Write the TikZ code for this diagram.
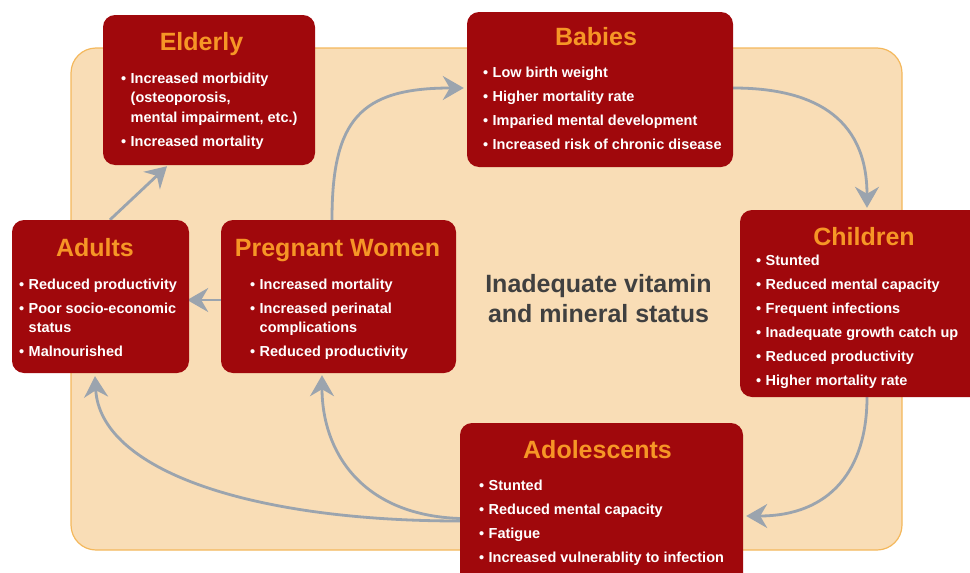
\documentclass[tikz,border=0pt]{standalone}
\usepackage{fontspec}
\setmainfont{Liberation Sans}
\usetikzlibrary{arrows.meta}
\definecolor{panelfill}{RGB}{249,221,182}
\definecolor{paneledge}{RGB}{244,184,92}
\definecolor{boxred}{RGB}{160,8,12}
\definecolor{titleor}{RGB}{246,150,38}
\definecolor{arrowgrey}{RGB}{155,164,174}
\definecolor{centergrey}{RGB}{64,64,64}
\pgfdeclarelayer{bg}\pgfdeclarelayer{arr}\pgfsetlayers{bg,arr,main}
\newcommand{\itm}[1]{\par\hangindent=9.5pt\hangafter=1\noindent\makebox[9.5pt][l]{\textbullet}#1}
\newcommand{\bulletlist}[2]{\parbox[t]{#1}{\fontsize{14.5}{19.5}\selectfont\bfseries\parskip=4.5pt #2}}
\begin{document}
\begin{tikzpicture}[x=1pt,y=-1pt,
  panel/.style={fill=panelfill,draw=paneledge,line width=1.2pt,rounded corners=25pt,inner sep=0pt},
  box/.style={fill=boxred,rounded corners=12pt,inner sep=0pt},
  ttl/.style={text=titleor,font=\fontsize{25}{30}\selectfont\bfseries,anchor=base,inner sep=0pt},
  lst/.style={text=white,anchor=base west,inner sep=0pt},
  ctr/.style={text=centergrey,font=\fontsize{25}{30}\selectfont\bfseries,anchor=base,inner sep=0pt},
  con/.style={draw=arrowgrey,line width=2.8pt,-{Stealth[length=21pt,width=24pt,inset=7pt]}}]
\useasboundingbox (0,0) rectangle (970,573);
\clip (0,0) rectangle (970,573);
\begin{pgfonlayer}{bg}
\node[panel,minimum width=831pt,minimum height=502pt] (panel) at (486.5,299) {};
\end{pgfonlayer}
% boxes
\node[box,minimum width=212pt,minimum height=150pt] (eld) at (209,90) {};
\node[box,minimum width=266pt,minimum height=155pt] (bab) at (600,89.5) {};
\node[box,minimum width=245pt,minimum height=187pt] (chi) at (862.5,303.5) {};
\node[box,minimum width=177pt,minimum height=153pt] (adu) at (100.5,296.5) {};
\node[box,minimum width=235pt,minimum height=153pt] (preg) at (338.5,296.5) {};
\node[box,minimum width=283pt,minimum height=167pt] (ado) at (601.5,506.5) {};
% titles
\node[ttl] (eld-t) at (201.5,50) {Elderly};
\node[ttl] (bab-t) at (596,45) {Babies};
\node[ttl] (chi-t) at (864,245) {Children};
\node[ttl] (adu-t) at (95,256) {Adults};
\node[ttl] (preg-t) at (337.5,256) {Pregnant Women};
\node[ttl] (ado-t) at (597.5,458) {Adolescents};
% lists
\node[lst] (eld-l) at (121,83) {\bulletlist{190pt}{\itm{Increased morbidity\\(osteoporosis,\\mental impairment, etc.)}\itm{Increased mortality}}};
\node[lst] (bab-l) at (483,77) {\bulletlist{245pt}{\itm{Low birth weight}\itm{Higher mortality rate}\itm{Imparied mental development}\itm{Increased risk of chronic disease}}};
\node[lst] (chi-l) at (756,265) {\bulletlist{215pt}{\itm{Stunted}\itm{Reduced mental capacity}\itm{Frequent infections}\itm{Inadequate growth catch up}\itm{Reduced productivity}\itm{Higher mortality rate}}};
\node[lst] (adu-l) at (19,289) {\bulletlist{168pt}{\itm{Reduced productivity}\itm{Poor socio-economic\\status}\itm{Malnourished}}};
\node[lst] (preg-l) at (250,289) {\bulletlist{200pt}{\itm{Increased mortality}\itm{Increased perinatal\\complications}\itm{Reduced productivity}}};
\node[lst] (ado-l) at (479,490) {\bulletlist{260pt}{\itm{Stunted}\itm{Reduced mental capacity}\itm{Fatigue}\itm{Increased vulnerablity to infection}}};
% centre text
\node[ctr] (ctr1) at (598.5,292) {Inadequate vitamin};
\node[ctr] (ctr2) at (598.5,322) {and mineral status};
% connectors
\begin{pgfonlayer}{arr}
\draw[con] ([xshift=9.5pt]adu.north) -- ([xshift=-42pt,yshift=-1pt]eld.south);
\draw[con] ([xshift=-6.5pt]preg.north) .. controls (332,120) and (360,88) .. ([xshift=-3pt,yshift=1.5pt]bab.west);
\draw[con] ([yshift=1.5pt]bab.east) .. controls (810,88) and (867,115) .. ([xshift=4.5pt,yshift=2pt]chi.north);
\draw[con] ([xshift=4.5pt]chi.south) .. controls (867,470) and (830,516) .. ([xshift=3pt,yshift=-9.5pt]ado.east);
\draw[con] ([yshift=-12pt]ado.west) .. controls (360,515) and (322,450) .. ([xshift=-16.5pt,yshift=-2pt]preg.south);
\draw[con] ([yshift=-14.5pt]ado.west) .. controls (250,521) and (100,470) .. ([xshift=-5.5pt,yshift=-3pt]adu.south);
\draw[con] ([yshift=-3.5pt]preg.west) -- ([xshift=-2pt,yshift=-3.5pt]adu.east);
\end{pgfonlayer}
\end{tikzpicture}
\end{document}
